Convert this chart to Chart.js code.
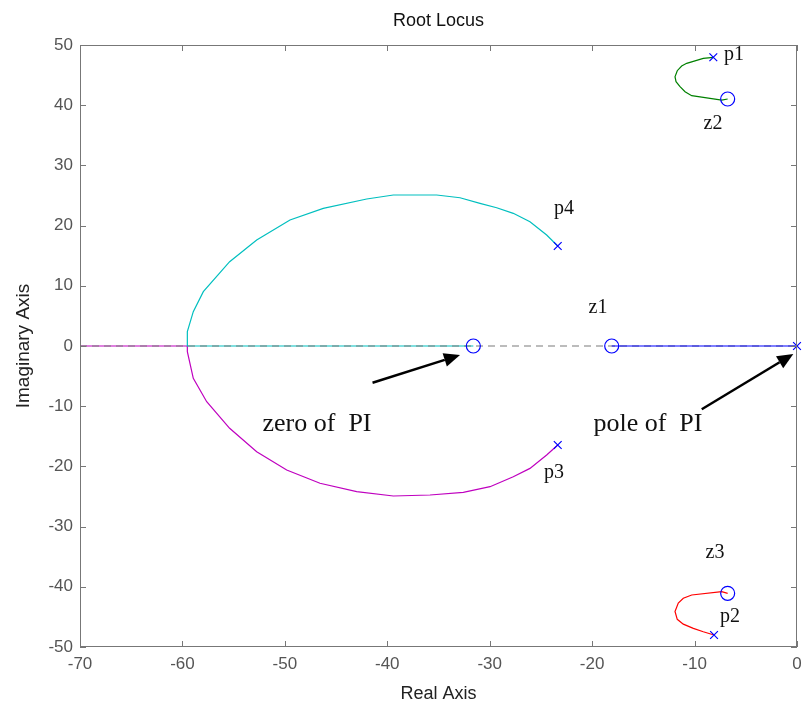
<!DOCTYPE html>
<html>
<head>
<meta charset="utf-8">
<script src="https://cdn.jsdelivr.net/npm/chart.js@4"></script>
<style>
  html, body { margin: 0; padding: 0; background: #fff; }
  #wrap { width: 802px; height: 705px; }
</style>
</head>
<body>
<div id="wrap"><canvas id="rootLocus"></canvas></div>
<script>
// axis ticks
const xTicks = [-70, -60, -50, -40, -30, -20, -10, 0];
const yTicks = [-50, -40, -30, -20, -10, 0, 10, 20, 30, 40, 50];

// locus branches
const cyanX = [-23.36, -24.44, -26.07, -27.70, -29.32, -30.95, -32.90, -35.18, -39.41, -42.01, -46.25, -49.50, -52.75, -55.39, -57.96, -58.94, -59.52, -59.52, -31.6];
const cyanY = [16.61, 18.44, 20.65, 22.04, 22.97, 23.70, 24.63, 25.08, 25.08, 24.42, 22.87, 20.93, 17.61, 14.00, 9.02, 5.70, 2.38, 0, 0];
const magentaX = [-23.36, -24.44, -26.07, -27.70, -29.97, -32.58, -35.83, -39.41, -42.99, -46.57, -49.82, -52.75, -55.39, -57.63, -58.94, -59.52, -59.52, -70];
const magentaY = [-16.45, -18.11, -20.33, -21.71, -23.37, -24.30, -24.75, -24.92, -24.20, -22.80, -20.60, -17.56, -13.67, -9.25, -5.37, -0.95, 0, 0];
const greenX = [-8.17, -9.15, -10.77, -11.26, -11.69, -11.91, -11.81, -11.42, -10.93, -10.28, -7.35, -6.77];
const greenY = [47.96, 47.79, 46.96, 46.51, 45.73, 44.73, 43.90, 43.07, 42.24, 41.58, 40.86, 41.03];
const redX = [-8.1, -9.15, -10.12, -11.1, -11.69, -11.91, -11.59, -11.1, -10.28, -7.35, -6.77];
const redY = [-48.0, -47.46, -46.9, -46.2, -45.4, -44.1, -42.7, -41.9, -41.36, -40.8, -41.08];
const blueX = [0, -18.09];
const blueY = [0, 0];
const realAxisX = [-70, 0];
const realAxisY = [0, 0];

// open-loop poles and zeros
const poleX = [-8.17, -8.1, -23.36, -23.36, 0];
const poleY = [47.96, -48.0, 16.61, -16.45, 0];
const zeroX = [-6.77, -6.77, -31.6, -18.09];
const zeroY = [41.03, -41.08, 0, 0];

// text notes
const noteText = ["p1", "z2", "p4", "z1", "p3", "z3", "p2", "zero of  PI", "pole of  PI"];
const noteX = [-6.15, -8.2, -22.75, -19.43, -23.72, -8.0, -6.54, -46.86, -14.55];
const noteY = [48.3, 36.9, 22.76, 6.3, -21.1, -34.4, -45.0, -12.96, -12.96];
const noteSize = [20, 20, 20, 20, 20, 20, 20, 26, 26];

// arrows: tail -> tip
const arrowFromX = [-41.44, -9.3];
const arrowFromY = [-6.1, -10.5];
const arrowToX = [-32.9, -0.36];
const arrowToY = [-1.5, -1.33];

const sans = "'Liberation Sans', Arial, sans-serif";

function pts(xs, ys) {
  return xs.map((x, i) => ({ x: x, y: ys[i] }));
}

function branch(xs, ys, color, order) {
  return {
    data: pts(xs, ys),
    showLine: true,
    borderColor: color,
    borderWidth: 1.2,
    pointRadius: 0,
    tension: 0,
    order: order
  };
}

const boxPlugin = {
  id: "boxPlugin",
  afterDatasetsDraw(chart) {
    const ctx = chart.ctx;
    const a = chart.chartArea;
    const xs = chart.scales.x;
    const ys = chart.scales.y;
    ctx.save();
    ctx.strokeStyle = "#777";
    ctx.lineWidth = 1;
    ctx.strokeRect(a.left + 0.5, a.top + 0.5, a.right - a.left - 1, a.bottom - a.top - 1);
    ctx.beginPath();
    xTicks.forEach(v => {
      const px = Math.round(xs.getPixelForValue(v)) + 0.5;
      ctx.moveTo(px, a.bottom);
      ctx.lineTo(px, a.bottom - 6);
      ctx.moveTo(px, a.top);
      ctx.lineTo(px, a.top + 6);
    });
    yTicks.forEach(v => {
      const py = Math.round(ys.getPixelForValue(v)) + 0.5;
      ctx.moveTo(a.left, py);
      ctx.lineTo(a.left + 6, py);
      ctx.moveTo(a.right, py);
      ctx.lineTo(a.right - 6, py);
    });
    ctx.stroke();
    ctx.restore();
  },
  afterDraw(chart) {
    const ctx = chart.ctx;
    const xs = chart.scales.x;
    const ys = chart.scales.y;
    ctx.save();
    ctx.fillStyle = "#111";
    ctx.textAlign = "center";
    ctx.textBaseline = "middle";
    noteText.forEach((t, i) => {
      ctx.font = noteSize[i] + "px 'Liberation Serif', 'Times New Roman', serif";
      ctx.fillText(t, xs.getPixelForValue(noteX[i]), ys.getPixelForValue(noteY[i]));
    });
    // arrows
    ctx.strokeStyle = "#000";
    ctx.fillStyle = "#000";
    ctx.lineWidth = 2.5;
    arrowFromX.forEach((fx, i) => {
      const x1 = xs.getPixelForValue(fx), y1 = ys.getPixelForValue(arrowFromY[i]);
      const x2 = xs.getPixelForValue(arrowToX[i]), y2 = ys.getPixelForValue(arrowToY[i]);
      const ang = Math.atan2(y2 - y1, x2 - x1);
      const len = 16, half = 7;
      const bx = x2 - len * Math.cos(ang), by = y2 - len * Math.sin(ang);
      ctx.beginPath();
      ctx.moveTo(x1, y1);
      ctx.lineTo(bx, by);
      ctx.stroke();
      ctx.beginPath();
      ctx.moveTo(x2, y2);
      ctx.lineTo(bx + half * Math.sin(ang), by - half * Math.cos(ang));
      ctx.lineTo(bx - half * Math.sin(ang), by + half * Math.cos(ang));
      ctx.closePath();
      ctx.fill();
    });
    ctx.restore();
  }
};

new Chart(document.getElementById("rootLocus"), {
  type: "scatter",
  data: {
    datasets: [
      { data: pts(poleX, poleY), pointStyle: "crossRot", pointRadius: 5.5, borderColor: "#0000ff", borderWidth: 1.2, backgroundColor: "transparent", clip: false, order: 0 },
      { data: pts(zeroX, zeroY), pointStyle: "circle", pointRadius: 7, borderColor: "#0000ff", borderWidth: 1.2, backgroundColor: "transparent", clip: false, order: 1 },
      branch(blueX, blueY, "#0000ff", 2),
      branch(greenX, greenY, "#008000", 3),
      branch(redX, redY, "#ff0000", 4),
      { data: pts(realAxisX, realAxisY), showLine: true, borderColor: "#7a7a7a", borderWidth: 1.2, borderDash: [7, 5], pointRadius: 0, order: 5 },
      branch(cyanX, cyanY, "#00bfbf", 6),
      branch(magentaX, magentaY, "#bf00bf", 7)
    ]
  },
  options: {
    responsive: true,
    maintainAspectRatio: false,
    animation: false,
    devicePixelRatio: 1,
    layout: { autoPadding: false, padding: { top: 0, right: 5, left: 0, bottom: 0 } },
    plugins: {
      legend: { display: false },
      tooltip: { enabled: false },
      title: {
        display: true,
        fullSize: false,
        text: "Root Locus",
        color: "#111",
        font: { family: sans, size: 18, weight: "normal" },
        padding: { top: 10, bottom: 13.4 }
      }
    },
    scales: {
      x: {
        type: "linear",
        min: -70,
        max: 0,
        afterBuildTicks: s => { s.ticks = xTicks.map(v => ({ value: v })); },
        afterFit: s => { s.height = 58; s.paddingRight = 0; s.paddingLeft = 0; },
        grid: { display: false, drawTicks: false },
        border: { display: false },
        ticks: { color: "#555", padding: 7, maxRotation: 0, font: { family: sans, size: 17 } },
        title: { display: true, text: "Real Axis", color: "#222", padding: 0, font: { family: sans, size: 18 } }
      },
      y: {
        type: "linear",
        min: -50,
        max: 50,
        afterBuildTicks: s => { s.ticks = yTicks.map(v => ({ value: v })); },
        afterFit: s => { s.width = 80; },
        grid: { display: false, drawTicks: false },
        border: { display: false },
        ticks: { color: "#555", padding: 7, font: { family: sans, size: 17 } },
        title: { display: true, text: "Imaginary Axis", color: "#222", padding: { top: 12, bottom: 0 }, font: { family: sans, size: 19 } }
      }
    }
  },
  plugins: [boxPlugin]
});
</script>
</body>
</html>
